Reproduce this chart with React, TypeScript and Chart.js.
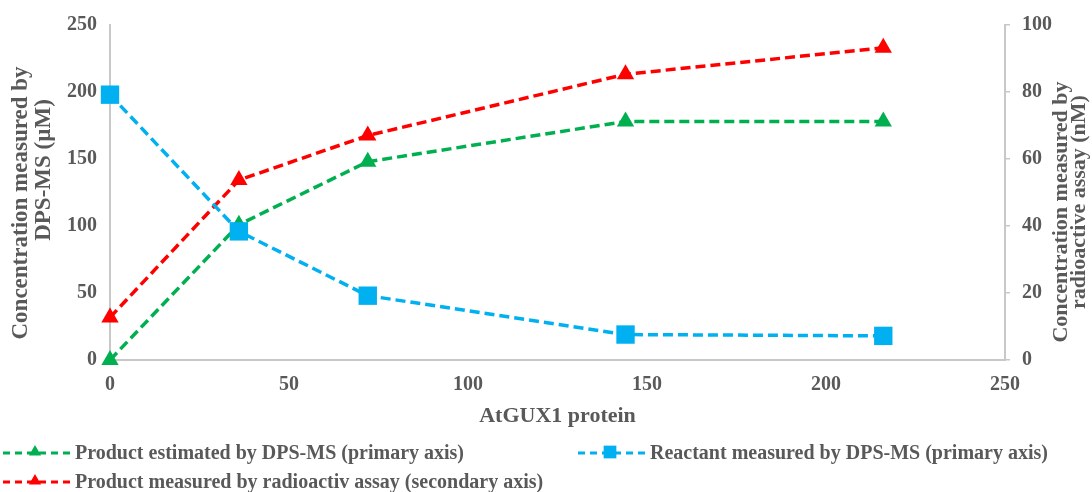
import { useEffect, useRef } from 'react';
import { Chart, registerables } from 'chart.js';

Chart.register(...registerables);

// ---- data ----
const proteinAmounts = [0, 36, 72, 144, 216];
const productEstimatedDpsMs = [0, 101, 148, 178, 178];
const reactantDpsMs = [198, 96, 48, 19, 18];
const productRadioassay = [12.7, 53.7, 67, 85.3, 93.2];

const seriesLabels = [
  'Product estimated by DPS-MS (primary axis)',
  'Reactant measured by DPS-MS (primary axis)',
  'Product measured by radioactiv assay (secondary axis)',
];
const xAxisTitle = 'AtGUX1 protein';
const leftAxisTitle = ['Concentration measured by', 'DPS-MS (µM)'];
const rightAxisTitle = ['Concentration measured by', 'radioactive assay (nM)'];

// ---- styles ----
const GREEN = '#00B050';
const BLUE = '#00B0F0';
const RED = '#FF0000';
const TEXT = '#595959';
const AXIS = '#C8C8C8';
const FONT = '"Liberation Serif", "Times New Roman", serif';

function drawMarker(ctx: CanvasRenderingContext2D, style: string, x: number, y: number, r: number, color: string) {
  ctx.fillStyle = color;
  ctx.beginPath();
  if (style === 'rect') {
    const s = r * Math.SQRT1_2;
    ctx.rect(x - s, y - s, 2 * s, 2 * s);
  } else {
    const a = (2 * Math.PI) / 3;
    ctx.moveTo(x, y - r);
    ctx.lineTo(x + Math.sin(a) * r, y - Math.cos(a) * r);
    ctx.lineTo(x + Math.sin(2 * a) * r, y - Math.cos(2 * a) * r);
    ctx.closePath();
  }
  ctx.fill();
}

const decorPlugin = {
  id: 'decor',
  afterDraw(chart: any) {
    const ctx: CanvasRenderingContext2D = chart.ctx;
    ctx.save();
    ctx.fillStyle = TEXT;
    ctx.textAlign = 'center';
    ctx.textBaseline = 'middle';
    const vTitle = (text: string, cx: number, cy: number, size: number) => {
      ctx.save();
      ctx.font = `bold ${size}px ${FONT}`;
      ctx.translate(cx, cy);
      ctx.rotate(-Math.PI / 2);
      ctx.fillText(text, 0, 0);
      ctx.restore();
    };
    vTitle(leftAxisTitle[0], 21, 203, 23);
    vTitle(leftAxisTitle[1], 44, 170, 23);
    vTitle(rightAxisTitle[0], 1061, 212, 22);
    vTitle(rightAxisTitle[1], 1079, 202, 22);

    // legend
    const items = [
      { label: seriesLabels[0], color: GREEN, style: 'triangle', x0: 3, y: 453 },
      { label: seriesLabels[1], color: BLUE, style: 'rect', x0: 578, y: 453 },
      { label: seriesLabels[2], color: RED, style: 'triangle', x0: 3, y: 482 },
    ];
    ctx.font = `bold 20px ${FONT}`;
    ctx.textAlign = 'left';
    items.forEach((it) => {
      ctx.save();
      ctx.strokeStyle = it.color;
      ctx.lineWidth = 3;
      ctx.setLineDash([7, 5]);
      ctx.beginPath();
      ctx.moveTo(it.x0, it.y);
      ctx.lineTo(it.x0 + 67, it.y);
      ctx.stroke();
      ctx.restore();
      drawMarker(ctx, it.style, it.x0 + 32, it.y - 1, it.style === 'rect' ? 9 : 7, it.color);
      ctx.fillStyle = TEXT;
      ctx.fillText(it.label, it.x0 + 72, it.y + 1);
    });
    ctx.restore();
  },
};

function toPoints(ys: number[]) {
  return proteinAmounts.map((x, i) => ({ x, y: ys[i] }));
}

export default function App() {
  const canvasRef = useRef<HTMLCanvasElement | null>(null);

  useEffect(() => {
    if (!canvasRef.current) return;
    const common = {
      borderWidth: 3.5,
      borderDash: [10, 5],
      fill: false,
      tension: 0,
      clip: false as any,
    };
    const tickFont = { family: FONT, size: 20, weight: 'bold' };
    const chart = new Chart(canvasRef.current, {
      type: 'line',
      data: {
        datasets: [
          {
            ...common,
            label: seriesLabels[1],
            data: toPoints(reactantDpsMs),
            borderColor: BLUE,
            backgroundColor: BLUE,
            pointStyle: 'rect',
            pointRadius: 13,
            pointBorderWidth: 0,
            yAxisID: 'y',
          },
          {
            ...common,
            label: seriesLabels[0],
            data: toPoints(productEstimatedDpsMs),
            borderColor: GREEN,
            backgroundColor: GREEN,
            pointStyle: 'triangle',
            pointRadius: 10,
            pointBorderWidth: 0,
            yAxisID: 'y',
          },
          {
            ...common,
            label: seriesLabels[2],
            data: toPoints(productRadioassay),
            borderColor: RED,
            backgroundColor: RED,
            pointStyle: 'triangle',
            pointRadius: 10,
            pointBorderWidth: 0,
            yAxisID: 'y2',
          },
        ],
      },
      options: {
        animation: false,
        responsive: false,
        devicePixelRatio: 1,
        layout: { padding: { top: 21, bottom: 62, left: 0, right: 0 } },
        plugins: {
          legend: { display: false },
          tooltip: { enabled: false },
        },
        scales: {
          x: {
            type: 'linear',
            min: 0,
            max: 250,
            ticks: { stepSize: 50, color: TEXT, font: tickFont, padding: 13 },
            grid: { display: false, drawTicks: false },
            border: { display: true, color: AXIS, width: 2 },
            title: {
              display: true,
              text: xAxisTitle,
              color: TEXT,
              font: { family: FONT, size: 22, weight: 'bold' },
              padding: { top: 4, bottom: 0 },
            },
            afterFit: (s: any) => { s.height = 70; },
          },
          y: {
            type: 'linear',
            position: 'left',
            min: 0,
            max: 250,
            ticks: { stepSize: 50, color: TEXT, font: tickFont, padding: 13 },
            grid: { display: false, drawTicks: false },
            border: { display: true, color: AXIS, width: 2 },
            afterFit: (s: any) => { s.width = 110; },
          },
          y2: {
            type: 'linear',
            position: 'right',
            min: 0,
            max: 100,
            ticks: { stepSize: 20, color: TEXT, font: tickFont, padding: 12 },
            grid: { display: true, drawOnChartArea: false, drawTicks: true, tickLength: 5, color: AXIS, lineWidth: 1.5 },
            border: { display: true, color: AXIS, width: 2 },
            afterFit: (s: any) => { s.width = 87; },
          },
        },
      } as any,
      plugins: [decorPlugin],
    });
    return () => chart.destroy();
  }, []);

  return (
    <div style={{ position: 'fixed', left: 0, top: 0, width: 1092, height: 492, background: '#fff' }}>
      <canvas ref={canvasRef} width={1092} height={492} style={{ display: 'block', width: 1092, height: 492 }} />
    </div>
  );
}
